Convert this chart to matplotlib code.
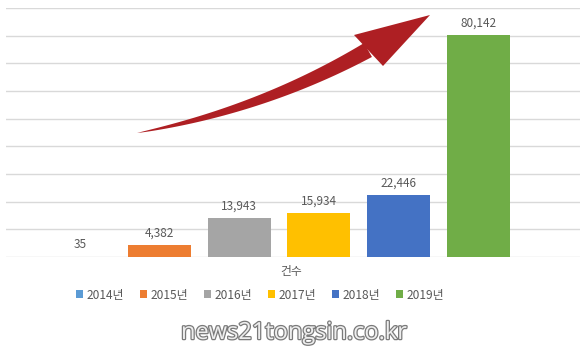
import numpy as np
import matplotlib.pyplot as plt
import matplotlib.patheffects as pe
from matplotlib.patches import Polygon

plt.rcParams['font.family'] = ['Noto Sans CJK KR', 'DejaVu Sans']

# --- data ---
years = ['2014년', '2015년', '2016년', '2017년', '2018년', '2019년']
counts = [35, 4382, 13943, 15934, 22446, 80142]
colors = ['#5B9BD5', '#ED7D31', '#A5A5A5', '#FFC000', '#4472C4', '#70AD47']
category = '건수'
watermark = 'news21tongsin.co.kr'

W, H = 586, 351
fig = plt.figure(figsize=(W / 100, H / 100), dpi=100)
ax = fig.add_axes([6 / W, 94 / H, 574 / W, 249 / H])

x = np.arange(len(counts))
for i, (yr, val, col) in enumerate(zip(years, counts, colors)):
    ax.bar(x[i], val, width=0.79, color=col, label=yr, zorder=3)
    ax.annotate(f'{val:,}', (x[i], val), xytext=(0, 4), textcoords='offset points',
                ha='center', va='bottom', fontsize=8.5, color='#595959')

ax.set_xlim(-0.93, 6.28)
ax.set_ylim(0, 90000)
ax.set_yticks(np.arange(0, 90001, 10000))
ax.grid(axis='y', color='#d9d9d9', linewidth=1, zorder=0)
ax.tick_params(left=False, bottom=False, labelleft=False, labelbottom=False)
for s in ax.spines.values():
    s.set_visible(False)

fig.text(291 / W, 1 - 272 / H, category, ha='center', va='center',
         fontsize=8.5, color='#595959')

fig.legend(loc='center', bbox_to_anchor=(260 / W, 1 - 295 / H), ncol=6,
           frameon=False, fontsize=8.6, labelcolor='#595959',
           handlelength=0.6, handleheight=0.6, handletextpad=0.3,
           columnspacing=1.3)

# --- curved red arrow (pixel coords, top-left origin) ---
def to_fig(px, py):
    return np.column_stack([np.asarray(px) / W, 1 - np.asarray(py) / H])

p0 = np.array([137, 133]); p1 = np.array([262, 110]); p2 = np.array([368, 50])
t = np.linspace(0, 1, 60)[:, None]
curve = (1 - t) ** 2 * p0 + 2 * (1 - t) * t * p1 + t ** 2 * p2
tang = 2 * (1 - t) * (p1 - p0) + 2 * t * (p2 - p1)
tang = tang / np.linalg.norm(tang, axis=1, keepdims=True)
norm = np.column_stack([-tang[:, 1], tang[:, 0]])
wid = 16 * t[:, 0] ** 0.8
upper = curve + norm * wid[:, None] / 2
lower = curve - norm * wid[:, None] / 2
shaft = np.vstack([upper, lower[::-1]])
arrow_col = '#AE1F23'
fig.add_artist(Polygon(to_fig(shaft[:, 0], shaft[:, 1]), closed=True,
                       transform=fig.transFigure, color=arrow_col, lw=0))
head = np.array([[354, 35], [430, 15], [383, 66]])
fig.add_artist(Polygon(to_fig(head[:, 0], head[:, 1]), closed=True,
                       transform=fig.transFigure, color=arrow_col, lw=0))

fig.text(294 / W, 1 - 333 / H, watermark, ha='center', va='center',
         fontsize=17, color='#eeeeee', family='Open Sans',
         path_effects=[pe.withStroke(linewidth=1.8, foreground='#7a7a7a')])

fig.savefig('out.png', dpi=100)
